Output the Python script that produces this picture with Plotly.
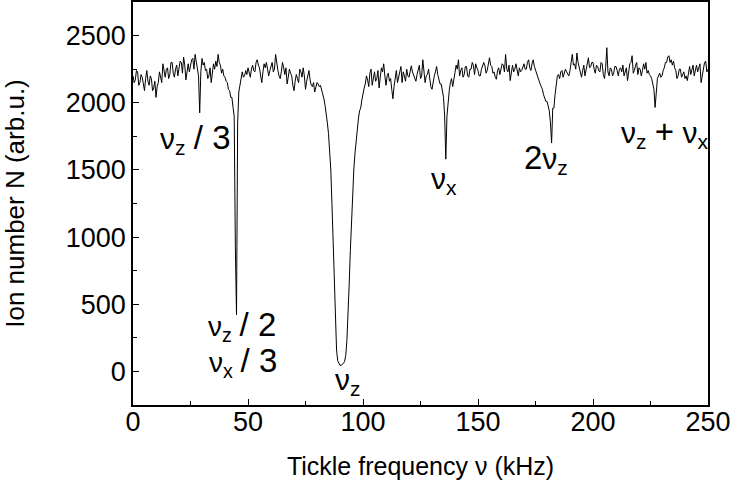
import plotly.graph_objects as go

# Ion number (arb.u.), one value every 0.5 kHz (rows of 10 kHz)
ions = [
    2200, 2150, 2170, 2240, 2230, 2130, 2150, 2210, 2190, 2120, 2090, 2180, 2240, 2160, 2130, 2200, 2180, 2090, 2110, 2160,  # 0
    2040, 2120, 2150, 2230, 2200, 2150, 2290, 2240, 2190, 2250, 2260, 2180, 2210, 2300, 2300, 2220, 2190, 2250, 2280, 2200,  # 10
    2250, 2310, 2300, 2220, 2340, 2280, 2170, 2250, 2290, 2230, 2270, 2320, 2330, 2250, 2360, 2300, 2270, 2200, 1925, 2230,  # 20
    2330, 2280, 2300, 2240, 2250, 2180, 2200, 2260, 2150, 2220, 2290, 2250, 2310, 2270, 2360, 2300, 2280, 2220, 2250, 2200,  # 30
    2190, 2160, 2150, 2100, 2090, 2040, 2040, 1965, 1900, 930, 420, 1850, 2080, 2130, 2180, 2230, 2190, 2200, 2240, 2210,    # 40
    2260, 2220, 2190, 2250, 2280, 2240, 2230, 2300, 2320, 2280, 2260, 2200, 2150, 2230, 2290, 2260, 2300, 2250, 2200, 2240,  # 50
    2270, 2300, 2230, 2250, 2360, 2290, 2240, 2200, 2180, 2230, 2300, 2260, 2210, 2260, 2140, 2190, 2250, 2220, 2200, 2130,  # 60
    2090, 2160, 2210, 2180, 2150, 2250, 2230, 2190, 2260, 2200, 2100, 2160, 2200, 2240, 2170, 2130, 2120, 2150, 2080, 2130,  # 70
    2150, 2140, 2120, 2130, 2100, 2060, 2030, 1980, 1930, 1850, 1770, 1650, 1500, 1250, 1000, 720, 420, 160, 80, 55,         # 80
    45, 45, 50, 60, 75, 120, 230, 400, 650, 900, 1150, 1350, 1500, 1620, 1720, 1820, 1880, 1940, 1960, 2020,                 # 90
    2080, 2110, 2140, 2200, 2170, 2120, 2220, 2250, 2130, 2200, 2230, 2160, 2180, 2240, 2110, 2190, 2260, 2230, 2290, 2200,  # 100
    2130, 2200, 2220, 2160, 2180, 2100, 2030, 2120, 2200, 2240, 2150, 2190, 2240, 2270, 2150, 2230, 2200, 2160, 2250, 2200,  # 110
    2190, 2240, 2275, 2230, 2200, 2170, 2160, 2210, 2240, 2280, 2180, 2200, 2320, 2230, 2150, 2200, 2210, 2250, 2170, 2120,  # 120
    2100, 2160, 2200, 2230, 2270, 2210, 2180, 2140, 2140, 2100, 2040, 1900, 1580, 1900, 2040, 2090, 2150, 2180, 2120, 2190,  # 130
    2225, 2280, 2250, 2320, 2200, 2240, 2260, 2190, 2210, 2270, 2270, 2200, 2190, 2250, 2250, 2300, 2280, 2210, 2290, 2260,  # 140
    2240, 2200, 2200, 2250, 2270, 2300, 2275, 2220, 2240, 2290, 2335, 2280, 2270, 2220, 2230, 2190, 2175, 2240, 2260, 2210,  # 150
    2240, 2290, 2280, 2230, 2360, 2250, 2230, 2280, 2165, 2220, 2280, 2230, 2250, 2290, 2230, 2200, 2260, 2230, 2240, 2270,  # 160
    2290, 2250, 2250, 2300, 2320, 2260, 2240, 2290, 2320, 2270, 2240, 2210, 2190, 2170, 2140, 2120, 2100, 2060, 2040, 2010,  # 170
    2010, 1970, 1940, 1850, 1700, 1960, 1960, 2060, 2140, 2200, 2210, 2180, 2230, 2240, 2190, 2220, 2250, 2230, 2210, 2200,  # 180
    2240, 2300, 2360, 2280, 2290, 2250, 2370, 2300, 2260, 2230, 2190, 2240, 2280, 2200, 2240, 2300, 2335, 2260, 2270, 2300,  # 190
    2300, 2250, 2220, 2280, 2270, 2240, 2230, 2300, 2290, 2210, 2180, 2260, 2410, 2230, 2200, 2260, 2250, 2200, 2220, 2270,  # 200
    2270, 2240, 2200, 2250, 2260, 2230, 2280, 2200, 2230, 2260, 2165, 2240, 2290, 2300, 2350, 2220, 2240, 2280, 2300, 2210,  # 210
    2260, 2250, 2200, 2240, 2290, 2250, 2300, 2220, 2240, 2210, 2200, 2180, 2150, 2100, 1965, 2100, 2180, 2200, 2220, 2190,  # 220
    2200, 2240, 2260, 2300, 2300, 2340, 2350, 2300, 2320, 2280, 2310, 2260, 2240, 2180, 2200, 2250, 2250, 2190, 2210, 2230,  # 230
    2180, 2200, 2165, 2230, 2270, 2210, 2250, 2280, 2200, 2240, 2280, 2230, 2260, 2290, 2150, 2200, 2240, 2300, 2310, 2230,  # 240
    2250]                                                                                                                      # 250

# Tickle frequency sweep (kHz): 0 to 250 in 0.5 kHz steps
freq = [i * 0.5 for i in range(len(ions))]

# Peak labels
BIG = "<span style='font-size:33px'>{}</span>"
label_text = ["ν<sub>z</sub> " + BIG.format("/ 3"),
              "ν<sub>z</sub> " + BIG.format("/ 2"),
              "ν<sub>x</sub> " + BIG.format("/ 3"),
              "ν<sub>z</sub>",
              "ν<sub>x</sub>",
              BIG.format("2") + "ν<sub>z</sub>",
              "ν<sub>z</sub> " + BIG.format("+") + " ν<sub>x</sub>"]
label_x = [27, 47.4, 47.8, 93.5, 135.2, 179.6, 230.9]
label_y = [1732, 335, 70, -78, 1420, 1583, 1777]
label_size = [30, 28, 28, 30, 30, 30, 30]

x_ticks = [0, 50, 100, 150, 200, 250]
y_ticks = [0, 500, 1000, 1500, 2000, 2500]

fig = go.Figure()
fig.add_trace(go.Scatter(x=freq, y=ions, mode="lines",
                         line=dict(color="black", width=1), showlegend=False))

for t, lx, ly, ls in zip(label_text, label_x, label_y, label_size):
    fig.add_annotation(x=lx, y=ly, text=t, showarrow=False, xref="x", yref="y",
                       font=dict(family="Arial", size=ls, color="black"))

axis_common = dict(showline=True, linecolor="black", linewidth=1.5, mirror=True,
                   ticks="inside", tickcolor="black", tickwidth=1, ticklen=6,
                   showgrid=False, zeroline=False,
                   tickfont=dict(family="Arial", size=27, color="black"))

fig.update_xaxes(range=[0, 250], tickvals=x_ticks,
                 minor=dict(ticks="inside", dtick=25, ticklen=4, tickcolor="black", tickwidth=1),
                 title=dict(text="Tickle frequency ν (kHz)", font=dict(family="Arial", size=25, color="black"),
                            standoff=21),
                 ticklabelstandoff=-8, **axis_common)
fig.update_yaxes(range=[-250, 2750], tickvals=y_ticks,
                 minor=dict(ticks="inside", dtick=250, ticklen=4, tickcolor="black", tickwidth=1),
                 title=dict(text="Ion number N (arb.u.)", font=dict(family="Arial", size=26, color="black"),
                            standoff=35),
                 ticklabelstandoff=0, **axis_common)

fig.update_layout(width=732, height=486, margin=dict(l=133, r=24, t=2, b=81, autoexpand=False),
                  plot_bgcolor="white", paper_bgcolor="white")

fig.write_html("out.html", config={"displayModeBar": False},
               post_script="document.body.style.margin='0';")
